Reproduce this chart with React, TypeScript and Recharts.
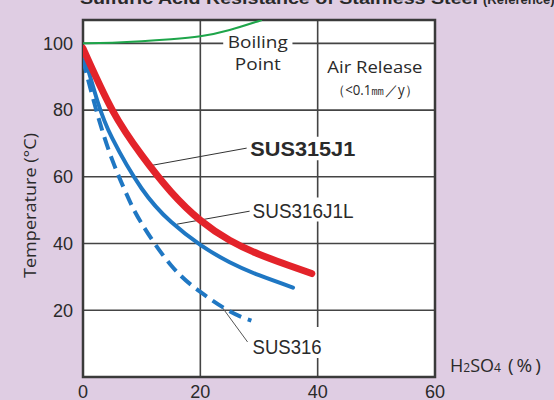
import React from 'react';
import {
  LineChart,
  Line,
  XAxis,
  YAxis,
  CartesianGrid,
  ReferenceArea,
  ReferenceLine,
} from 'recharts';

// ---- data ----
const xTicks = [0, 20, 40, 60];
const yTicks = [20, 40, 60, 80, 100];
const yGrid = [0, 20, 40, 60, 80, 100];

const boilingX = [0, 5, 10, 15, 20, 25, 30.5];
const boilingY = [100, 100.2, 100.6, 101.2, 102.1, 104, 107];

const sus315j1X = [0, 5, 10, 15, 20, 25, 30, 35, 39];
const sus315j1Y = [98.5, 80, 66.5, 55.5, 47, 41, 36.8, 33.5, 31];

const sus316j1lX = [0, 2.5, 5, 10, 15, 20, 25, 30, 35.8];
const sus316j1lY = [97.5, 82.5, 71.5, 56.5, 46.5, 39.6, 34.4, 30.5, 26.8];

const sus316X = [0, 2.5, 5, 7.5, 10, 15, 20, 25, 28.7];
const sus316Y = [95, 78.5, 65, 54.5, 46, 33.5, 25.5, 19.7, 16.9];

const toRows = (xs: number[], ys: number[]) => xs.map((x, i) => ({ x, y: ys[i] }));

const boilingData = toRows(boilingX, boilingY);
const sus315j1Data = toRows(sus315j1X, sus315j1Y);
const sus316j1lData = toRows(sus316j1lX, sus316j1lY);
const sus316Data = toRows(sus316X, sus316Y);

const TEXT = '#2a2a2a';
const GRID = '#444';
const BG = '#dfcde3';
const FONT = '"Liberation Sans", Arial, sans-serif';
const FONT2 = '"Open Sans", "Noto Sans", sans-serif';

const boilingLabel = (props: any) => {
  const vb = props.viewBox || {};
  const cx = vb.x + vb.width / 2;
  return (
    <g>
      <text x={cx} y={vb.y + 12} textAnchor="middle" fontFamily={FONT2} fontSize={17} fill={TEXT} textLength={60} lengthAdjust="spacingAndGlyphs">
        Boiling
      </text>
      <text x={cx} y={vb.y + 34} textAnchor="middle" fontFamily={FONT2} fontSize={17} fill={TEXT} textLength={46} lengthAdjust="spacingAndGlyphs">
        Point
      </text>
    </g>
  );
};

const airLabel = (props: any) => {
  const vb = props.viewBox || {};
  const cx = vb.x + vb.width / 2;
  return (
    <g>
      <text x={cx} y={vb.y + 18} textAnchor="middle" fontFamily={FONT2} fontSize={17} fill={TEXT} textLength={95} lengthAdjust="spacingAndGlyphs">
        Air Release
      </text>
      <text x={cx} y={vb.y + 40} textAnchor="middle" fontFamily={FONT2} fontSize={14} fill={TEXT} textLength={86} lengthAdjust="spacingAndGlyphs">
        （&lt;0.1㎜／y）
      </text>
    </g>
  );
};

const susLabel = (text: string, len: number, bold: boolean) => (props: any) => {
  const vb = props.viewBox || {};
  return (
    <text
      x={vb.x + 3}
      y={vb.y + vb.height - 4}
      fontFamily={FONT}
      fontSize={21}
      fontWeight={bold ? 'bold' : 'normal'}
      fill={TEXT}
      textLength={len}
      lengthAdjust="spacingAndGlyphs"
    >
      {text}
    </text>
  );
};

const yAxisLabel = (props: any) => {
  const vb = props.viewBox || {};
  const cx = vb.x + 36;
  const cy = vb.y + vb.height / 2 + 7;
  return (
    <text
      x={cx}
      y={cy}
      transform={`rotate(-90 ${cx} ${cy})`}
      textAnchor="middle"
      fontFamily={FONT2}
      fontSize={16}
      fill={TEXT}
      textLength={145}
      lengthAdjust="spacingAndGlyphs"
    >
      Temperature (°C)
    </text>
  );
};

export default function App() {
  return (
    <div
      style={{
        position: 'absolute',
        left: 0,
        top: 0,
        width: 554,
        height: 400,
        background: BG,
        overflow: 'hidden',
      }}
    >
      <svg width={554} height={400} style={{ position: 'absolute', left: 0, top: 0 }}>
        <text x={80} y={4} fontFamily={FONT} fontWeight="bold" fontSize={17} fill={TEXT} textLength={398} lengthAdjust="spacingAndGlyphs">
          Sulfuric Acid Resistance of Stainless Steel
        </text>
        <text x={483} y={4} fontFamily={FONT} fontWeight="bold" fontSize={13} fill={TEXT}>
          (Reference)
        </text>
        <text x={450} y={372} fontFamily={FONT2} fontSize={18} fill={TEXT}>
          H<tspan fontSize={12}>2</tspan>SO<tspan fontSize={12}>4</tspan>
          <tspan dx={7} fontSize={19} letterSpacing={3}>(%)</tspan>
        </text>
      </svg>
      <div style={{ position: 'absolute', left: 0, top: 0 }}>
        <LineChart width={554} height={400} margin={{ top: 20, right: 119, bottom: 0, left: 0 }}>
          <CartesianGrid
            fill="#ffffff"
            stroke={GRID}
            strokeWidth={1.6}
            horizontalValues={yGrid}
            verticalValues={xTicks}
          />
          <XAxis
            type="number"
            dataKey="x"
            domain={[0, 60]}
            ticks={xTicks}
            allowDataOverflow
            height={23}
            axisLine={false}
            tickLine={false}
            tick={{ fill: TEXT, fontSize: 18, fontFamily: FONT }}
          />
          <YAxis
            type="number"
            dataKey="y"
            domain={[0, 107]}
            ticks={yTicks}
            allowDataOverflow
            width={83}
            axisLine={false}
            tickLine={false}
            tickMargin={4}
            tick={{ fill: TEXT, fontSize: 18, fontFamily: FONT }}
            label={{ content: yAxisLabel }}
          />
          <ReferenceArea x1={23.9} x2={35.7} y1={90.4} y2={102.1} fill="#ffffff" fillOpacity={1} stroke="none" ifOverflow="visible" label={{ content: boilingLabel }} />
          <ReferenceArea x1={40.5} x2={59} y1={83} y2={96.4} fill="#ffffff" fillOpacity={0} stroke="none" ifOverflow="visible" label={{ content: airLabel }} />
          <ReferenceArea x1={28.0} x2={46.5} y1={65} y2={72} fill="#ffffff" fillOpacity={1} stroke="none" ifOverflow="visible" label={{ content: susLabel('SUS315J1', 105, true) }} />
          <ReferenceArea x1={28.4} x2={46.4} y1={46.6} y2={53.8} fill="#ffffff" fillOpacity={1} stroke="none" ifOverflow="visible" label={{ content: susLabel('SUS316J1L', 101, false) }} />
          <ReferenceArea x1={28.4} x2={41.2} y1={5.7} y2={15} fill="#ffffff" fillOpacity={1} stroke="none" ifOverflow="visible" label={{ content: susLabel('SUS316', 69, false) }} />
          <ReferenceLine segment={[{ x: 11.0, y: 63.2 }, { x: 27.9, y: 68.6 }]} stroke="#333" strokeWidth={1} ifOverflow="visible" />
          <ReferenceLine segment={[{ x: 16.0, y: 45.8 }, { x: 28.4, y: 49.7 }]} stroke="#333" strokeWidth={1} ifOverflow="visible" />
          <ReferenceLine segment={[{ x: 23.8, y: 20.7 }, { x: 28.05, y: 10.5 }]} stroke="#555" strokeWidth={1} ifOverflow="visible" />
          <Line data={boilingData} dataKey="y" type="natural" stroke="#1ea54a" strokeWidth={2} dot={false} activeDot={false} isAnimationActive={false} />
          <Line data={sus316Data} dataKey="y" type="natural" stroke="#1f77c3" strokeWidth={4} strokeDasharray="13 7" dot={false} activeDot={false} isAnimationActive={false} />
          <Line data={sus316j1lData} dataKey="y" type="natural" stroke="#1f77c3" strokeWidth={4} strokeLinecap="round" dot={false} activeDot={false} isAnimationActive={false} />
          <Line data={sus315j1Data} dataKey="y" type="natural" stroke="#e3232a" strokeWidth={7} strokeLinecap="round" dot={false} activeDot={false} isAnimationActive={false} />
          <ReferenceArea x1={0} x2={60} y1={0} y2={107} fill="none" fillOpacity={0} stroke="#3a3a3a" strokeWidth={2.5} ifOverflow="visible" />
        </LineChart>
      </div>
    </div>
  );
}
